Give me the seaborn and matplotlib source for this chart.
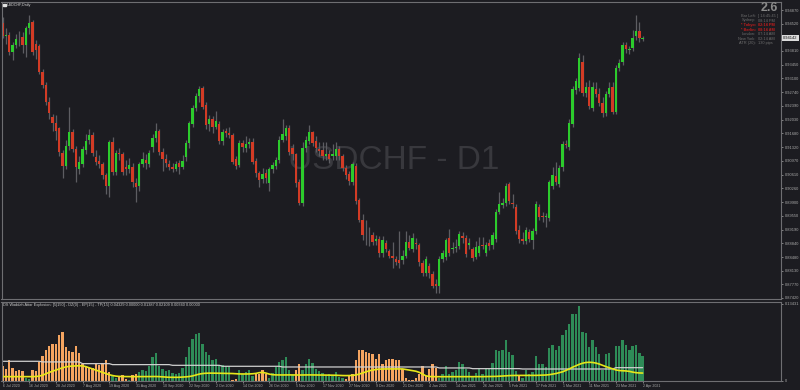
import numpy as np
import pandas as pd
import matplotlib
matplotlib.use("Agg")
import matplotlib.pyplot as plt
import matplotlib.transforms as mtransforms
from matplotlib.patches import Rectangle
import seaborn as sns

BG = "#1c1c21"
sns.set_theme(style="dark", rc={"axes.facecolor": BG, "figure.facecolor": BG,
                                "savefig.facecolor": BG})
plt.rcParams["font.family"] = ["Liberation Sans", "DejaVu Sans"]

# ---------------- data ----------------
opens = [
    .9453, .9420, .9422, .9379, .9396, .9412, .9416, .9396, .9440, .9455,
    .9398, .9394, .9327, .9293, .9250, .9210, .9195, .9182, .9117, .9083,
    .9135, .9172, .9127, .9075, .9089, .9125, .9151, .9164, .9107, .9097,
    .9089, .9060, .9032, .9146, .9069, .9118, .9114, .9081, .9076, .9081,
    .9040, .9032, .9089, .9099, .9089, .9132, .9156, .9174, .9120, .9102,
    .9089, .9081, .9076, .9090, .9080, .9106, .9142, .9191, .9234, .9264,
    .9284, .9241, .9192, .9204, .9185, .9192, .9149, .9174, .9170, .9164,
    .9102, .9086, .9142, .9129, .9140, .9145, .9097, .9065, .9050, .9066,
    .9039, .9075, .9084, .9099, .9152, .9161, .9181, .9129, .9114, .9043,
    .8988, .9131, .9149, .9171, .9147, .9127, .9125, .9110, .9114, .9110,
    .9110, .9127, .9110, .9079, .9063, .9042, .9084, .8995, .8944, .8906,
    .8905, .8905, .8890, .8894, .8858, .8885, .8864, .8851, .8843, .8840,
    .8840, .8851, .8888, .8868, .8885, .8879, .8833, .8806, .8825, .8804,
    .8778, .8773, .8842, .8847, .8898, .8868, .8871, .8876, .8902, .8898,
    .8879, .8868, .8849, .8858, .8879, .8858, .8883, .8879, .8894, .8965,
    .8983, .8987, .9037, .8987, .8978, .8918, .8894, .8890, .8913, .8892,
    .8915, .8978, .8955, .8951, .8948, .9032, .9058, .9037, .9082, .9140,
    .9133, .9191, .9280, .9284, .9352, .9273, .9287, .9233, .9283, .9270,
    .9246, .9220, .9270, .9289, .9224, .9336, .9352, .9396, .9384, .9388,
    .9419, .9433, .9413]

closes = [
    .9420, .9423, .9379, .9396, .9412, .9413, .9396, .9440, .9453, .9379,
    .9383, .9327, .9293, .9250, .9220, .9195, .9175, .9120, .9083, .9135,
    .9172, .9127, .9082, .9095, .9127, .9149, .9164, .9117, .9095, .9089,
    .9060, .9032, .9146, .9069, .9118, .9114, .9069, .9076, .9086, .9043,
    .9030, .9089, .9102, .9090, .9118, .9155, .9174, .9120, .9102, .9091,
    .9080, .9076, .9089, .9080, .9097, .9142, .9194, .9234, .9264, .9283,
    .9237, .9189, .9204, .9185, .9200, .9149, .9171, .9168, .9164, .9095,
    .9084, .9144, .9132, .9140, .9146, .9094, .9065, .9047, .9063, .9053,
    .9075, .9086, .9099, .9152, .9166, .9183, .9120, .9114, .9039, .8988,
    .9131, .9151, .9171, .9144, .9131, .9121, .9110, .9114, .9101, .9114,
    .9127, .9110, .9077, .9060, .9045, .9088, .8994, .8944, .8905, .8904,
    .8904, .8888, .8894, .8858, .8892, .8868, .8851, .8845, .8836, .8833,
    .8851, .8888, .8871, .8898, .8882, .8836, .8806, .8842, .8806, .8773,
    .8774, .8842, .8859, .8892, .8858, .8871, .8873, .8907, .8896, .8855,
    .8883, .8845, .8875, .8877, .8876, .8879, .8876, .8905, .8965, .8985,
    .8988, .9032, .8993, .8984, .8915, .8894, .8890, .8918, .8894, .8915,
    .8985, .8951, .8951, .8955, .9041, .9060, .9043, .9077, .9140, .9138,
    .9194, .9283, .9303, .9362, .9273, .9287, .9239, .9287, .9270, .9247,
    .9220, .9270, .9284, .9224, .9336, .9351, .9396, .9385, .9386, .9415,
    .9433, .9414, .9415]

highs = [
    .9468, .9440, .9430, .9404, .9425, .9432, .9430, .9445, .9475, .9461,
    .9410, .9400, .9335, .9300, .9262, .9218, .9215, .9185, .9125, .9150,
    .9237, .9180, .9135, .9110, .9135, .9165, .9180, .9172, .9125, .9112,
    .9095, .9065, .9151, .9158, .9125, .9130, .9120, .9100, .9105, .9090,
    .9052, .9095, .9120, .9115, .9125, .9165, .9195, .9180, .9130, .9115,
    .9100, .9092, .9096, .9098, .9112, .9150, .9200, .9240, .9272, .9290,
    .9290, .9248, .9215, .9212, .9225, .9200, .9180, .9182, .9185, .9170,
    .9110, .9150, .9150, .9160, .9155, .9155, .9105, .9070, .9078, .9075,
    .9082, .9095, .9108, .9160, .9204, .9190, .9190, .9140, .9118, .9050,
    .9145, .9160, .9189, .9175, .9160, .9146, .9146, .9146, .9125, .9140,
    .9146, .9135, .9115, .9085, .9070, .9095, .9090, .9000, .8960, .8944,
    .8925, .8912, .8905, .8902, .8902, .8892, .8870, .8888, .8850, .8915,
    .8865, .8915, .8905, .8910, .8898, .8885, .8840, .8850, .8833, .8812,
    .8790, .8850, .8866, .8898, .8920, .8888, .8895, .8915, .8912, .8905,
    .8898, .8875, .8890, .8900, .8900, .8888, .8895, .8912, .8972, .9017,
    .9000, .9040, .9043, .9012, .8985, .8930, .8912, .8925, .8920, .8922,
    .8992, .8985, .8965, .8962, .9048, .9082, .9095, .9085, .9148, .9150,
    .9205, .9290, .9310, .9375, .9371, .9300, .9305, .9300, .9300, .9285,
    .9262, .9278, .9300, .9300, .9345, .9360, .9405, .9405, .9395, .9435,
    .9474, .9455, .9420]

lows = [
    .9415, .9400, .9370, .9358, .9388, .9395, .9375, .9366, .9425, .9370,
    .9360, .9322, .9285, .9240, .9205, .9175, .9150, .9110, .9052, .9075,
    .9125, .9120, .9043, .9062, .9080, .9115, .9140, .9110, .9085, .9078,
    .9050, .9012, .9004, .9060, .9060, .9100, .9060, .9060, .9065, .9030,
    .8991, .9020, .9080, .9075, .9080, .9120, .9145, .9112, .9070, .9080,
    .9072, .9068, .9070, .9062, .9075, .9096, .9130, .9185, .9225, .9250,
    .9230, .9180, .9175, .9170, .9178, .9140, .9138, .9158, .9155, .9088,
    .9075, .9080, .9120, .9120, .9130, .9088, .9055, .9030, .9040, .9040,
    .9020, .9065, .9075, .9090, .9145, .9150, .9112, .9100, .9030, .8983,
    .8980, .9120, .9140, .9135, .9120, .9110, .9100, .9100, .9090, .9100,
    .9100, .9100, .9070, .9050, .9035, .9035, .8985, .8938, .8892, .8879,
    .8876, .8878, .8880, .8849, .8849, .8860, .8845, .8819, .8828, .8819,
    .8830, .8845, .8866, .8862, .8870, .8825, .8798, .8800, .8795, .8768,
    .8756, .8755, .8835, .8840, .8850, .8858, .8862, .8870, .8885, .8848,
    .8870, .8838, .8842, .8850, .8868, .8850, .8865, .8870, .8888, .8958,
    .8975, .8980, .8985, .8975, .8908, .8885, .8882, .8882, .8888, .8868,
    .8908, .8945, .8938, .8926, .8940, .9025, .9035, .9030, .9070, .9130,
    .9125, .9185, .9270, .9278, .9265, .9262, .9230, .9225, .9262, .9238,
    .9211, .9212, .9262, .9218, .9218, .9328, .9345, .9375, .9372, .9380,
    .9410, .9405, .9408]

price_ticks = [0.87420, 0.87770, 0.88130, 0.88480, 0.88840, 0.89190, 0.89550,
               0.89900, 0.90260, 0.90610, 0.90970, 0.91320, 0.91680, 0.92030,
               0.92390, 0.92740, 0.93100, 0.93450, 0.93810, 0.94160, 0.94520,
               0.94870]
last_price = 0.94142

wae_hist = [
    .0256, .0215, .0361, .0233, .0169, .0186, .0174, .0058, .0040, .0186,
    .0169, .0331, .0436, .0535, .0605, .0639, .0651, .0797, .0855, .0593,
    .0517, .0506, .0605, .0488, .0302, .0256, .0233, .0233, .0302, .0273,
    .0314, .0372, .0157, .0099, .0058, .0081, .0099, .0041, .0023, .0099,
    .0116, .0157, .0198, .0169, .0256, .0419, .0488, .0256, .0203, .0169,
    .0186, .0140, .0116, .0140, .0233, .0419, .0593, .0738, .0826, .0837,
    .0651, .0506, .0448, .0372, .0390, .0273, .0273, .0256, .0256, .0023,
    .0041, .0186, .0128, .0157, .0186, .0081, .0128, .0128, .0186, .0128,
    .0058, .0140, .0244, .0331, .0361, .0419, .0186, .0099, .0186, .0302,
    .0198, .0291, .0378, .0314, .0215, .0174, .0140, .0110, .0128, .0099,
    .0157, .0070, .0058, .0041, .0099, .0116, .0361, .0535, .0547, .0506,
    .0488, .0477, .0390, .0477, .0302, .0372, .0390, .0390, .0361, .0361,
    .0215, .0058, .0023, .0012, .0058, .0128, .0256, .0081, .0215, .0291,
    .0233, .0058, .0116, .0256, .0116, .0157, .0186, .0331, .0291, .0215,
    .0157, .0081, .0140, .0215, .0128, .0215, .0215, .0314, .0535, .0517,
    .0547, .0709, .0506, .0448, .0174, .0099, .0058, .0186, .0116, .0157,
    .0430, .0291, .0291, .0244, .0581, .0622, .0547, .0605, .0797, .0895,
    .1000, .1163, .1163, .1302, .0855, .0837, .0593, .0721, .0593, .0465,
    .0198, .0477, .0488, .0186, .0605, .0605, .0709, .0622, .0547, .0605,
    .0622, .0488, .0430]

# u = trend up (green bar), d = trend down (orange bar); 10 bars per chunk
wae_dir_chunks = [
    "ddddddduud", "dddddddddd", "dddddddddd", "ddduudddud", "duuuuuuuuu",
    "uuuuuuuuuu", "uuuuuuuuud", "duuuuudddd", "uuuuuuuudd", "uuuuuuuuuu",
    "uuuddddddd", "dddddddddd", "dddddddddd", "duuuuuuuuu", "uuuuuuuuuu",
    "uuuuuduuuu", "uuuuuuuuuu", "uuuuuuuuuu", "uuuuuuuuuu", "uuu"]

wae_explosion = [
    .0076, .0076, .0076, .0076, .0076, .0076, .0076, .0076, .0076, .0076,
    .0078, .0085, .0100, .0125, .0150, .0170, .0190, .0210, .0230, .0245,
    .0255, .0260, .0262, .0265, .0262, .0250, .0230, .0210, .0190, .0170,
    .0150, .0130, .0110, .0095, .0085, .0080, .0078, .0077, .0076, .0076,
    .0076, .0075, .0075, .0076, .0077, .0078, .0078, .0076, .0072, .0068,
    .0065, .0064, .0064, .0065, .0068, .0072, .0078, .0088, .0105, .0120,
    .0130, .0135, .0137, .0137, .0136, .0135, .0135, .0134, .0133, .0130,
    .0126, .0123, .0122, .0122, .0123, .0126, .0132, .0145, .0150, .0138,
    .0120, .0110, .0106, .0105, .0105, .0106, .0106, .0105, .0104, .0104,
    .0105, .0106, .0106, .0105, .0105, .0104, .0104, .0103, .0102, .0102,
    .0100, .0097, .0095, .0094, .0095, .0098, .0105, .0120, .0140, .0160,
    .0178, .0190, .0200, .0206, .0209, .0210, .0210, .0210, .0210, .0210,
    .0210, .0200, .0190, .0180, .0170, .0150, .0120, .0090, .0078, .0076,
    .0075, .0075, .0075, .0075, .0075, .0075, .0075, .0075, .0075, .0075,
    .0075, .0075, .0076, .0076, .0076, .0077, .0077, .0078, .0080, .0083,
    .0086, .0090, .0094, .0096, .0097, .0097, .0097, .0096, .0096, .0096,
    .0098, .0100, .0102, .0104, .0110, .0120, .0130, .0145, .0160, .0185,
    .0210, .0240, .0265, .0290, .0310, .0322, .0326, .0322, .0312, .0295,
    .0272, .0250, .0230, .0210, .0192, .0182, .0178, .0175, .0168, .0155,
    .0145, .0140, .0138]

wae_deadzone = [
    .0343, .0343, .0343, .0343, .0343, .0343, .0343, .0343, .0343, .0343,
    .0343, .0343, .0332, .0332, .0332, .0332, .0332, .0332, .0332, .0332,
    .0332, .0332, .0332, .0332, .0302, .0302, .0302, .0302, .0302, .0302,
    .0302, .0302, .0302, .0285, .0285, .0285, .0285, .0285, .0285, .0285,
    .0285, .0285, .0285, .0285, .0285, .0285, .0285, .0285, .0285, .0285,
    .0285, .0273, .0273, .0273, .0273, .0273, .0273, .0273, .0273, .0273,
    .0273, .0273, .0273, .0273, .0273, .0273, .0256, .0256, .0256, .0256,
    .0256, .0256, .0256, .0256, .0256, .0256, .0256, .0256, .0256, .0256,
    .0256, .0256, .0256, .0256, .0244, .0244, .0244, .0244, .0244, .0244,
    .0244, .0244, .0244, .0244, .0244, .0244, .0244, .0244, .0244, .0244,
    .0244, .0244, .0244, .0244, .0244, .0244, .0244, .0244, .0244, .0244,
    .0244, .0244, .0244, .0244, .0244, .0244, .0244, .0244, .0244, .0244,
    .0244, .0244, .0244, .0244, .0244, .0244, .0244, .0244, .0244, .0244,
    .0244, .0227, .0227, .0227, .0227, .0227, .0227, .0227, .0227, .0227,
    .0227, .0215, .0215, .0215, .0215, .0215, .0215, .0215, .0215, .0215,
    .0215, .0215, .0215, .0215, .0215, .0215, .0209, .0209, .0209, .0209,
    .0209, .0209, .0209, .0209, .0209, .0209, .0209, .0209, .0209, .0209,
    .0209, .0209, .0209, .0209, .0209, .0209, .0209, .0209, .0209, .0209,
    .0209, .0209, .0209, .0209, .0232, .0232, .0232, .0232, .0232, .0232,
    .0232, .0232, .0232]

wae_max_label = 0.13431

date_pos = [0, 8, 16, 24, 32, 40, 48, 56, 64, 72, 80, 88, 96, 104, 112, 120,
            128, 136, 144, 152, 160, 168, 176, 184, 192]
date_labels = ["6 Jul 2020", "16 Jul 2020", "28 Jul 2020", "7 Aug 2020",
               "19 Aug 2020", "31 Aug 2020", "10 Sep 2020", "22 Sep 2020",
               "2 Oct 2020", "14 Oct 2020", "26 Oct 2020", "5 Nov 2020",
               "17 Nov 2020", "27 Nov 2020", "9 Dec 2020", "21 Dec 2020",
               "4 Jan 2021", "14 Jan 2021", "26 Jan 2021", "5 Feb 2021",
               "17 Feb 2021", "1 Mar 2021", "11 Mar 2021", "23 Mar 2021",
               "2 Apr 2021"]

info_keys = ["Bar Left:", "Sydney:", "* Tokyo:", "* Berlin:", "London:",
             "New York:", "ATR (20):"]
info_vals = ["[ 14:45:45 ]", "08:14 PM", "02:14 PM", "08:14 AM", "07:14 AM",
             "02:14 AM", "130 pips"]
info_red = [False, False, True, True, False, False, False]
spread_text = "2.6"
ind_title = ("DS Waddah Attar Explosion: [5|150] - DZ(0) - EP(15) - TP(15) "
             "0.04329 0.00000 0.01387 0.02109 0.00340 0.00000")

# ---------------- styling ----------------
GREEN = "#2ccb2c"
RED = "#d23b25"
WICK = "#5d5d62"
H_GREEN = "#2e8b57"
H_ORANGE = "#f4a460"
SPINE = "#6e6e72"
TXT = "#a8a8a8"
FS = 2.9

W, H = 800, 390
def fx(px):
    return px / W
def fy(py):
    return 1 - py / H

fig = plt.figure(figsize=(8, 3.9), dpi=100)
ax = fig.add_axes([fx(1.5), fy(299), fx(781) - fx(1.5), fy(2) - fy(299)])
ax2 = fig.add_axes([fx(1.5), fy(381), fx(781) - fx(1.5), fy(302) - fy(381)])

n = len(closes)
idx = np.arange(n)
o = np.array(opens); c = np.array(closes)
hi = np.array(highs); lo = np.array(lows)
up = c >= o

# candles
ax.vlines(idx, lo, hi, color=WICK, linewidth=0.9, zorder=1)
body_lo = np.minimum(o, c)
body_h = np.maximum(np.abs(c - o), 0.00012)
ax.bar(idx, body_h, bottom=body_lo, width=0.72,
       color=np.where(up, GREEN, RED), linewidth=0, zorder=2)

ax.set_xlim(-0.3, 233.5)
ax.set_ylim(0.87394, 0.95077)
ax.set_xticks([])
ax.yaxis.tick_right()
ax.set_yticks(price_ticks)
ax.set_yticklabels([f"{v:.5f}" for v in price_ticks])
ax.tick_params(axis="y", labelsize=FS, colors=TXT, length=1.5, width=0.5, pad=1.0,
               right=True, left=False)
ax.grid(False)
for s in ax.spines.values():
    s.set_color(SPINE); s.set_linewidth(0.8); s.set_visible(True)

# watermark
ax.text(fx(394), fy(160.5), "USDCHF - D1", transform=fig.transFigure,
        fontsize=24, color="#38383d", ha="center", va="center", zorder=0)

# last price box
trans = mtransforms.blended_transform_factory(ax.transAxes, ax.transData)
ax.text(1.003, last_price, f"{last_price:.5f}", transform=trans, fontsize=FS,
        color="#101010", ha="left", va="center", clip_on=False, zorder=10,
        bbox=dict(boxstyle="square,pad=0.3", fc="#dcdcdc", ec="none"))

# indicator
wae_dir = list("".join(wae_dir_chunks))
df = pd.DataFrame({"idx": idx, "val": wae_hist, "dir": wae_dir})
sns.barplot(data=df, x="idx", y="val", hue="dir",
            palette={"u": H_GREEN, "d": H_ORANGE}, native_scale=True,
            width=0.72, dodge=False, legend=False, saturation=1,
            errorbar=None, linewidth=0, ax=ax2)
sns.lineplot(x=idx, y=wae_deadzone, color="#cfcfcf", linewidth=0.9, ax=ax2)
sns.lineplot(x=idx, y=wae_explosion, color="#e6e61a", linewidth=1.2, ax=ax2)
ax2.set_xlabel(""); ax2.set_ylabel("")
ax2.set_xlim(-0.3, 233.5)
ax2.set_ylim(0, 0.1375)
ax2.yaxis.tick_right()
ax2.set_yticks([0, wae_max_label])
ax2.set_yticklabels(["0", f"{wae_max_label:.5f}"])
ax2.tick_params(axis="y", labelsize=FS, colors=TXT, length=1.5, width=0.5, pad=1.0,
                right=True, left=False)
ax2.set_xticks(date_pos)
ax2.set_xticklabels(date_labels)
ax2.tick_params(axis="x", labelsize=2.6, colors=TXT, length=1.5, width=0.5, pad=0.6,
                bottom=True)
for lab in ax2.get_xticklabels():
    lab.set_ha("left")
ax2.grid(False)
for s in ax2.spines.values():
    s.set_color(SPINE); s.set_linewidth(0.8); s.set_visible(True)

# texts
fig.patches.append(Rectangle((fx(2.5), fy(6.2)), 3.0 / W, 2.2 / H,
                             transform=fig.transFigure, color="#e0e0e0"))
fig.text(fx(7), fy(5.0), "USDCHF,Daily", fontsize=2.7, color="#d0d0d0",
         ha="left", va="center")
fig.text(fx(3), fy(305.3), ind_title, fontsize=2.8, color="#c8c8c8",
         ha="left", va="center")
fig.text(fx(778), fy(8), spread_text, fontsize=9, color="#8a8a8a",
         ha="right", va="center", fontweight="bold")
ys = [15.7, 20.5, 25.0, 29.7, 34.2, 38.8, 43.3]
for k, v, r, yy in zip(info_keys, info_vals, info_red, ys):
    col = "#c01d1d" if r else "#6e6e6e"
    fig.text(fx(756), fy(yy), k, fontsize=2.8, color=col, ha="right",
             va="center", fontweight="bold" if r else "normal")
    fig.text(fx(758), fy(yy), v, fontsize=2.8, color=col, ha="left",
             va="center", fontweight="bold" if r else "normal")

fig.savefig("out.png", dpi=100, facecolor=BG)
